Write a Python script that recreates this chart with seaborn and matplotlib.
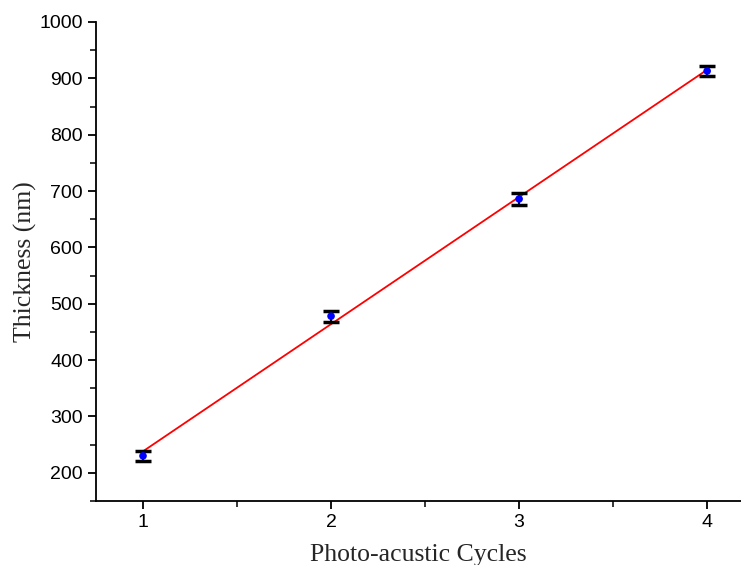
import matplotlib
matplotlib.use("Agg")
import matplotlib.pyplot as plt
import seaborn as sns
import numpy as np
import pandas as pd
from matplotlib.ticker import MultipleLocator

cycles = [1, 2, 3, 4]
thickness = [230, 478, 686, 913]
errors = [9, 10, 10, 9]
x_label = "Photo-acustic Cycles"
y_label = "Thickness (nm)"

sns.set_style("ticks")
plt.rcParams['font.family'] = ['Liberation Sans', 'DejaVu Sans']

df = pd.DataFrame({"cycles": cycles, "thickness": thickness, "err": errors})

fig = plt.figure(figsize=(7.41, 5.65), dpi=100)
ax = fig.add_axes([96/741, 64/565, 1 - 96/741, (501-22)/565])

sns.regplot(data=df, x="cycles", y="thickness", ci=None, scatter=False,
            line_kws=dict(color="red", lw=1.3), ax=ax)
ax.errorbar(df["cycles"], df["thickness"], yerr=df["err"], fmt="none",
            ecolor="black", elinewidth=1.5, capsize=6, capthick=2.5, zorder=3)
sns.scatterplot(data=df, x="cycles", y="thickness", color="blue", s=30,
                edgecolor="none", ax=ax, zorder=4)

ax.set_xlim(0.75, 4.18)
ax.set_ylim(150, 1000)
ax.xaxis.set_major_locator(MultipleLocator(1))
ax.xaxis.set_minor_locator(MultipleLocator(0.5))
ax.yaxis.set_major_locator(MultipleLocator(100))
ax.yaxis.set_minor_locator(MultipleLocator(50))
ax.set_yticks([200, 300, 400, 500, 600, 700, 800, 900, 1000])
ax.tick_params(which="major", direction="out", length=6, width=1.3, labelsize=14, colors="black")
ax.tick_params(which="minor", direction="out", length=4, width=1.3)
sns.despine(ax=ax)
for s in ["left", "bottom"]:
    ax.spines[s].set_linewidth(1.3)
    ax.spines[s].set_color("black")

ax.set_xlabel(x_label, fontsize=18.5, family=["Liberation Serif", "DejaVu Serif"], labelpad=9)
ax.set_ylabel(y_label, fontsize=18.5, family=["Liberation Serif", "DejaVu Serif"], labelpad=2)

fig.savefig("out.png", dpi=100)
